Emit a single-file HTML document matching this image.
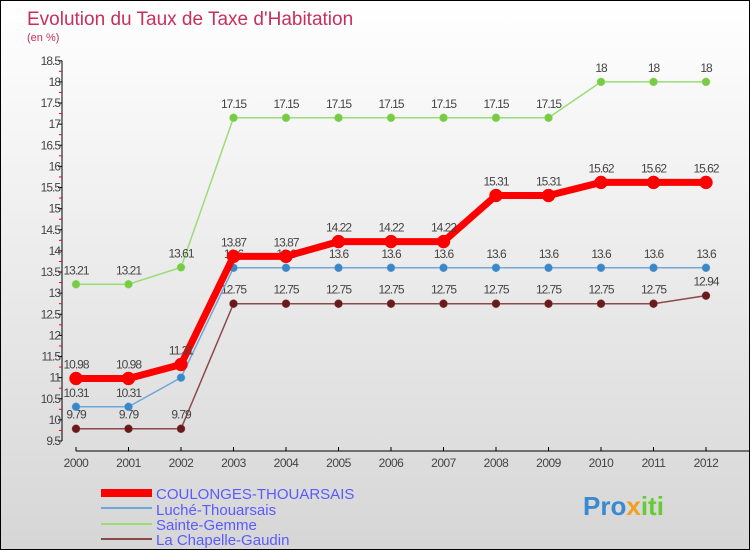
<!DOCTYPE html>
<html><head><meta charset="utf-8"><style>
body{margin:0;}
#c{position:relative;width:748px;height:548px;border:1px solid #000;background:linear-gradient(#ffffff,#d6d6d6);font-family:"Liberation Sans",sans-serif;overflow:hidden}
</style></head><body>
<div id="c">
<svg id="s" width="748" height="548" style="position:absolute;left:0;top:0" font-family="Liberation Sans, sans-serif">
<text x="26" y="24" font-size="19" fill="#c8305a">Evolution du Taux de Taxe d'Habitation</text>
<text x="26" y="40" font-size="11" fill="#c8305a">(en %)</text>
<g id="axes"></g><g id="series"></g>
<g>
<rect x="100" y="488" width="51" height="8" fill="#ff0000"/>
<text x="155" y="498" font-size="15" fill="#5a5aff">COULONGES-THOUARSAIS</text>
<line x1="100" y1="507" x2="151" y2="507" stroke="#6fa8d8" stroke-width="2"/>
<text x="155" y="514" font-size="15" fill="#5a5aff">Luché-Thouarsais</text>
<line x1="100" y1="523" x2="151" y2="523" stroke="#99dd77" stroke-width="2"/>
<text x="155" y="529" font-size="15" fill="#5a5aff">Sainte-Gemme</text>
<line x1="100" y1="538" x2="151" y2="538" stroke="#8a4a4a" stroke-width="2"/>
<text x="155" y="544" font-size="15" fill="#5a5aff">La Chapelle-Gaudin</text>
</g>
<text x="582" y="514" font-size="26" font-weight="bold" fill="#3a8ad0">Pro<tspan fill="#f0a020">x</tspan><tspan fill="#6c3">iti</tspan></text>
</svg>
</div>
<script>
const years=[2000,2001,2002,2003,2004,2005,2006,2007,2008,2009,2010,2011,2012];
const coulonges=[10.98,10.98,11.31,13.87,13.87,14.22,14.22,14.22,15.31,15.31,15.62,15.62,15.62];
const luche=[10.31,10.31,11,13.6,13.6,13.6,13.6,13.6,13.6,13.6,13.6,13.6,13.6];
const gemme=[13.21,13.21,13.61,17.15,17.15,17.15,17.15,17.15,17.15,17.15,18,18,18];
const chapelle=[9.79,9.79,9.79,12.75,12.75,12.75,12.75,12.75,12.75,12.75,12.75,12.75,12.94];
const yTicks=[9.5,10,10.5,11,11.5,12,12.5,13,13.5,14,14.5,15,15.5,16,16.5,17,17.5,18,18.5];
const NS="http://www.w3.org/2000/svg";
function X(i){return 75+i*52.5;}
function Y(v){return 440-(v-9.5)*42.25;}
function mk(t,a,p){const e=document.createElementNS(NS,t);for(const k in a)e.setAttribute(k,a[k]);p.appendChild(e);return e;}
const ax=document.getElementById('axes');
mk('line',{x1:61,y1:Y(18.5),x2:61,y2:Y(9.5),stroke:'#000'},ax);
mk('line',{x1:75,y1:450,x2:748,y2:450,stroke:'#000'},ax);
yTicks.forEach(v=>{
 mk('line',{x1:57,y1:Y(v),x2:61,y2:Y(v),stroke:'#000'},ax);
 if(v<18.5)mk('line',{x1:58,y1:Y(v+0.25),x2:61,y2:Y(v+0.25),stroke:'#f00'},ax);
 const t=mk('text',{x:59,y:Y(v)+4,'font-size':12,fill:'#444','text-anchor':'end','letter-spacing':'-1'},ax);t.textContent=v;
 
 
});
years.forEach((y,i)=>{
 mk('line',{x1:X(i),y1:446,x2:X(i),y2:450,stroke:'#000'},ax);
 const t=mk('text',{x:X(i),y:466,'font-size':12,fill:'#444','text-anchor':'middle','letter-spacing':'-0.5'},ax);t.textContent=y;
 
 
});
const sg=document.getElementById('series');
function series(vals,color,dot,w,r,name,labels){
 const g=mk('g',{},sg);
 
 
 mk('polyline',{points:vals.map((v,i)=>X(i)+','+Y(v)).join(' '),fill:'none',stroke:color,'stroke-width':w},g);
 vals.forEach((v,i)=>{mk('circle',{cx:X(i),cy:Y(v),r:r,fill:dot,stroke:color,'stroke-width':0.5},g);
  if(labels){const t=mk('text',{x:X(i),y:Y(v)-10,'font-size':12,fill:'#444','text-anchor':'middle','letter-spacing':'-1'},g);t.textContent=v;}});
}
series(chapelle,'#8a4a4a','#6a1a1a',1.5,4,'series-chapelle',true);
series(luche,'#6fa8d8','#3a88c8',1.5,4,'series-luche',true);
series(gemme,'#99dd77','#77cc44',1.5,4,'series-sainte-gemme',true);
series(coulonges,'#ff0000','#ff0000',7,6.5,'series-coulonges',true);
</script>
</body></html>
